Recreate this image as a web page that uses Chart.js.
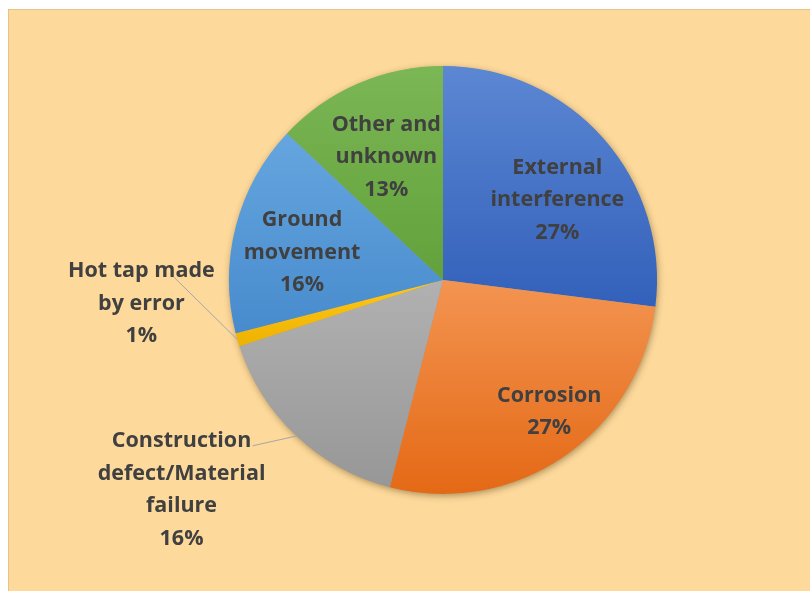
<!DOCTYPE html>
<html>
<head>
<meta charset="utf-8">
<script src="https://cdn.jsdelivr.net/npm/chart.js@4/dist/chart.umd.min.js"></script>
<style>
  html, body { margin: 0; padding: 0; background: #ffffff; }
  canvas { display: block; }
</style>
</head>
<body>
<canvas id="pie" width="810" height="591"></canvas>
<script>
// Causes of pipeline incidents, share of total (%)
const categories = [
  'External interference',
  'Corrosion',
  'Construction defect/Material failure',
  'Hot tap made by error',
  'Ground movement',
  'Other and unknown'
];
const shares = [27, 27, 16, 1, 16, 13];

// Wrapped label text for each slice
const labelLines = [
  ['External', 'interference'],
  ['Corrosion'],
  ['Construction', 'defect/Material', 'failure'],
  ['Hot tap made', 'by error'],
  ['Ground', 'movement'],
  ['Other and', 'unknown']
];

// Slice fills: lighter tone at the top, deeper tone at the bottom
const fillTop    = ['#5B87D3', '#F39451', '#B1B1B1', '#FFC81A', '#65A6DF', '#7BB755'];
const fillBottom = ['#3360BA', '#E46915', '#979797', '#EEB200', '#488BCD', '#62A13B'];

// Label placement: radius fraction along the slice's mid angle plus a pixel nudge
const labelStyle = [
  { f: 0.65, dx: 10, dy: 12, leader: null },
  { f: 0.75, dx: 16, dy: -1, leader: null },
  { f: 1.30, dx: -71, dy: 7, leader: { x: 71, y: -44 } },
  { f: 1.20, dx: -55, dy: -48, leader: { x: 32, y: -27 } },
  { f: 0.68, dx: 0, dy: 9, leader: null },
  { f: 0.62, dx: -4, dy: -1, leader: null }
];

const FONT = 'bold 21.5px "Open Sans", Lato, sans-serif';
const LINE_H = 32.5;
const TEXT_COLOR = '#404040';

const total = shares.reduce((a, b) => a + b, 0);

// Vertical extent of a slice, used to span its gradient
function sliceExtent(area, index) {
  const cx = (area.left + area.right) / 2;
  const cy = (area.top + area.bottom) / 2;
  const r = Math.min(area.right - area.left, area.bottom - area.top) / 2;
  let before = 0;
  for (let i = 0; i < index; i++) before += shares[i];
  const a0 = -Math.PI / 2 + (before / total) * 2 * Math.PI;
  const a1 = a0 + (shares[index] / total) * 2 * Math.PI;
  let top = cy, bottom = cy;
  const steps = 60;
  for (let s = 0; s <= steps; s++) {
    const a = a0 + (a1 - a0) * s / steps;
    const y = cy + r * Math.sin(a);
    top = Math.min(top, y);
    bottom = Math.max(bottom, y);
  }
  return { top, bottom };
}

const pageBackground = {
  id: 'pageBackground',
  beforeDraw(chart) {
    const { ctx, width, height } = chart;
    ctx.save();
    ctx.fillStyle = '#ffffff';
    ctx.fillRect(0, 0, width, height);
    ctx.fillStyle = '#FDD99B';
    ctx.fillRect(8, 9, width - 8, height - 9);
    ctx.strokeStyle = 'rgba(200,170,120,0.45)';
    ctx.lineWidth = 1;
    ctx.beginPath();
    ctx.moveTo(8, 9.5); ctx.lineTo(width, 9.5);
    ctx.moveTo(8.5, 9); ctx.lineTo(8.5, height);
    ctx.stroke();
    ctx.restore();
  }
};

// Soft drop shadow under the whole pie
const pieShadow = {
  id: 'pieShadow',
  beforeDatasetsDraw(chart) {
    const arc = chart.getDatasetMeta(0).data[0];
    if (!arc) return;
    const { ctx } = chart;
    ctx.save();
    ctx.shadowColor = 'rgba(60,40,0,0.45)';
    ctx.shadowBlur = 7;
    ctx.shadowOffsetX = 1;
    ctx.shadowOffsetY = 2;
    ctx.fillStyle = '#9a9a9a';
    ctx.beginPath();
    ctx.arc(arc.x, arc.y, arc.outerRadius - 0.5, 0, Math.PI * 2);
    ctx.fill();
    ctx.restore();
  }
};

const sliceLabels = {
  id: 'sliceLabels',
  afterDatasetsDraw(chart) {
    const { ctx } = chart;
    const arcs = chart.getDatasetMeta(0).data;
    ctx.save();
    ctx.font = FONT;
    ctx.textAlign = 'center';
    ctx.textBaseline = 'middle';
    arcs.forEach((arc, i) => {
      const st = labelStyle[i];
      const mid = (arc.startAngle + arc.endAngle) / 2;
      const r = arc.outerRadius;
      const lx = arc.x + Math.cos(mid) * r * st.f + st.dx;
      const ly = arc.y + Math.sin(mid) * r * st.f + st.dy;
      const lines = labelLines[i].concat([shares[i] + '%']);
      if (st.leader) {
        ctx.strokeStyle = '#A6A6A6';
        ctx.lineWidth = 1;
        ctx.beginPath();
        ctx.moveTo(lx + st.leader.x, ly + st.leader.y);
        ctx.lineTo(arc.x + Math.cos(mid) * r, arc.y + Math.sin(mid) * r);
        ctx.stroke();
      }
      ctx.fillStyle = TEXT_COLOR;
      const y0 = ly - (lines.length - 1) * LINE_H / 2;
      lines.forEach((t, k) => ctx.fillText(t, lx, y0 + k * LINE_H));
    });
    ctx.restore();
  }
};

new Chart(document.getElementById('pie'), {
  type: 'pie',
  data: {
    labels: categories,
    datasets: [{
      data: shares,
      borderWidth: 0,
      hoverOffset: 0,
      offset: 0,
      backgroundColor(context) {
        const i = context.dataIndex;
        const area = context.chart.chartArea;
        if (!area || i === undefined) return fillTop[i] || '#999';
        const ext = sliceExtent(area, i);
        const g = context.chart.ctx.createLinearGradient(0, ext.top, 0, ext.bottom);
        g.addColorStop(0, fillTop[i]);
        g.addColorStop(1, fillBottom[i]);
        return g;
      }
    }]
  },
  options: {
    responsive: false,
    animation: false,
    layout: { padding: { left: 229, right: 153, top: 66, bottom: 97 } },
    plugins: {
      legend: { display: false },
      tooltip: { enabled: false }
    }
  },
  plugins: [pageBackground, pieShadow, sliceLabels]
});
</script>
</body>
</html>
